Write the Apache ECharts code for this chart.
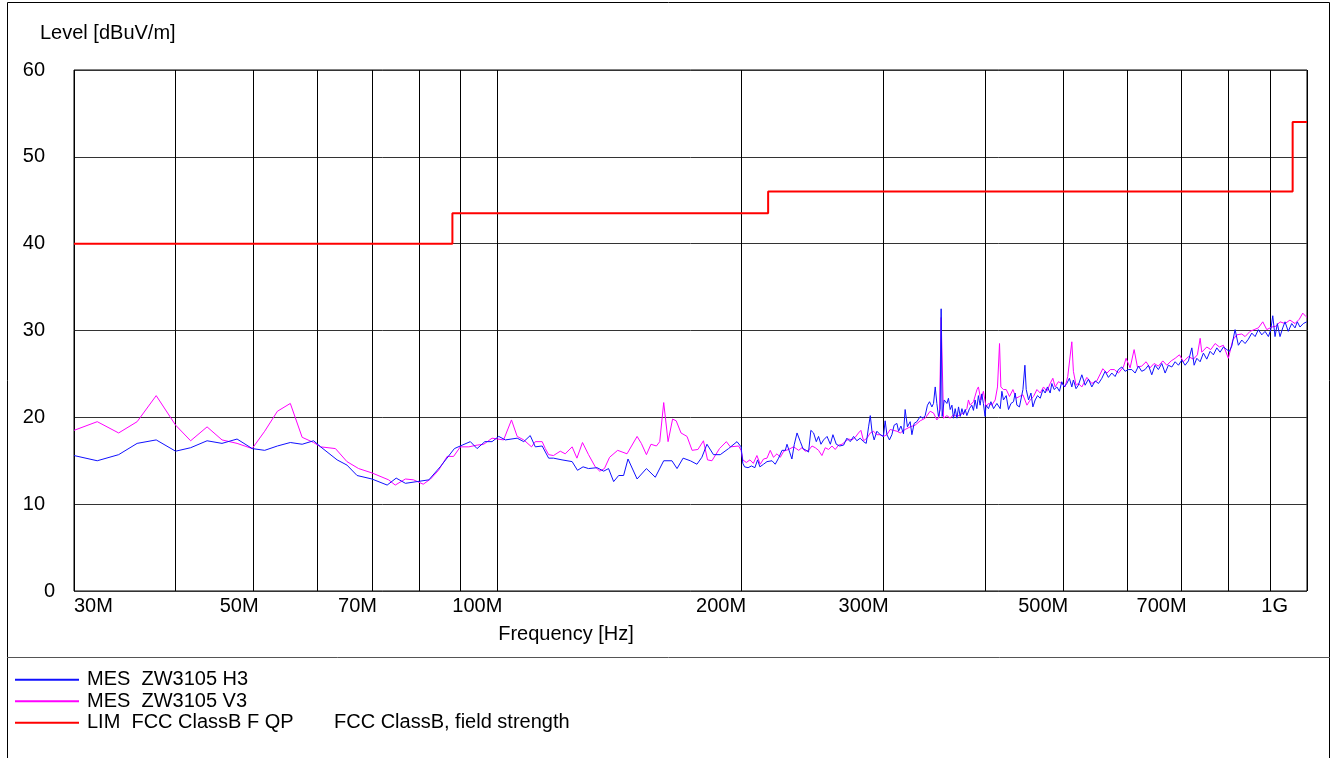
<!DOCTYPE html>
<html><head><meta charset="utf-8">
<script src="https://cdn.jsdelivr.net/npm/echarts@6/dist/echarts.min.js"></script>
<style>html,body{margin:0;padding:0;background:#fff}#c{width:1338px;height:758px}</style>
</head><body><div id="c"></div>
<script>
// ---- data (frequency in MHz, level in dBuV/m) ----
const freqH = [30,32.05,34.06,35.9,37.9,40.05,41.8,43.8,45.7,47.7,49.8,51.6,53.5,55.5,57.4,59.3,60.5,63.4,65.2,67.1,70,73.1,75,77,79.6,82.3,85,88.5,90.5,92.6,94.4,96.5,98.5,100.4,102.3,105.8,107.8,109.8,111.4,113.6,115.7,117.3,120.2,123.7,125.6,127.6,129.6,132.8,135.3,137.2,139.2,141.2,143.2,145,148.8,152.8,156.7,160.5,164.3,166.7,169.6,173.1,176.4,178.9,181.5,184.9,188.5,193,197.7,200,
201,202,204,206,208,209.6,211,213.2,215.3,218.4,220.4,222.5,224.7,226.8,227.9,229.6,231.1,232.7,234.5,236.7,238.5,240.7,242.3,243.9,245.8,247.7,249.3,251,252.9,255.4,257.8,259.7,262.2,264.7,267.7,270.2,272.8,275.4,278,280.6,283.3,285.5,287.4,288.8,290.2,292,294.3,297.1,299.8,301.3,302.8,305,307.1,309.1,311.5,313,315.1,317.4,318.9,321,323.5,325.1,327.2,329.7,332.9,335.4,337.6,339.8,341.8,344.1,345.7,347.4,349,350.6,352.3,353.3,354.3,356.4,359.1,360.7,362.5,364.3,365.9,367.7,369.5,371.2,373,374.8,376.5,378.3,380.1,382.9,385.5,387.3,389.1,391,392.8,394.7,396.6,398.4,400.3,401.4,404.2,407,410.1,414,417.9,419.9,421.8,425.1,427.9,430.9,434,436.1,438.2,441.4,443.2,445.8,448.3,450,453,456.1,458.6,461.6,464.7,468.3,471.9,474.9,478,481.7,484,487.2,491,494.6,497.9,501.2,505.1,508.8,512.3,514.6,518.5,521.9,527.1,532.1,537.1,542.3,547.5,552.7,558,563.2,568.5,574,579.4,584.9,590.6,596.1,601.7,607.6,613.4,619.1,625,631,637,643.1,649.1,655.3,661.7,668,674.2,680.9,687.3,693.8,700.4,707.1,713.8,720.7,725.4,731,737.9,744.8,752,759.1,766.3,773.7,781,788.4,796,801.8,807.4,815,822.7,830.7,838.6,846.4,854.7,862.8,870.8,879.3,887.6,896,902.1,907.2,913.1,919.1,926.1,933.3,939.4,948.1,957.4,966.5,972.8,980.3,989.6,999.2];
const levelH = [15.6,15.0,15.7,17.0,17.4,16.1,16.5,17.3,17.0,17.5,16.4,16.2,16.7,17.1,16.9,17.3,16.6,15.1,14.5,13.3,12.9,12.2,13.0,12.4,12.6,12.8,14.3,16.4,16.8,17.2,16.4,17.2,17.2,17.8,17.4,17.6,17.2,17.9,16.6,16.7,15.3,15.3,15.1,14.9,13.9,14.3,14.1,14.2,13.8,14.1,12.6,13.3,13.3,15.2,12.9,14.1,13.1,15.0,15.0,14.1,15.3,15.0,14.6,15.4,16.9,15.7,15.7,16.4,17.2,16.6,
14.7,14.3,14.2,14.4,14.2,15.1,14.3,14.6,14.9,15.0,14.6,15.3,16.2,16.2,16.9,16.0,15.2,16.9,18.2,17.2,16.4,16.2,16.0,18.5,18.2,17.2,17.8,16.9,17.4,17.8,16.9,18.0,16.9,16.7,16.8,17.6,17.2,17.8,17.3,17.6,17.2,17.0,18.9,20.2,18.4,17.4,18.4,18.0,17.8,19.6,18.0,17.4,18.0,19.1,19.3,18.4,19.0,18.1,20.9,18.9,19.5,18.0,19.3,19.5,20.1,19.9,20.2,21.4,21.8,21.2,21.6,23.5,21.6,20.1,20.9,32.5,20.1,22.0,21.6,22.2,20.9,21.4,19.9,21.0,19.9,21.2,20.1,21.0,20.3,20.9,20.2,21.0,21.4,20.8,22.0,21.0,22.5,21.4,22.7,21.6,20.1,21.4,21.0,21.8,21.0,21.6,21.0,23.0,22.0,22.5,20.9,21.6,21.8,22.8,21.4,21.2,21.0,23.2,26.0,23.2,22.0,22.8,21.2,22.0,22.5,22.2,23.2,22.8,23.5,22.8,23.9,23.2,23.5,23.0,24.1,23.5,23.9,24.5,23.5,24.3,23.3,23.7,24.9,23.7,24.4,23.5,24.2,23.9,24.5,25.3,24.6,25.1,24.7,25.5,25.8,25.3,25.5,25.5,25.1,25.9,25.3,25.5,26.0,24.9,26.0,25.5,26.2,25.1,26.0,25.8,26.4,26.0,26.6,26.0,26.5,28.0,26.0,26.8,26.4,27.4,26.7,27.6,27.2,28.0,27.5,28.1,27.8,27.6,28.2,30.1,28.3,28.9,28.5,29.0,29.7,29.3,30.1,29.5,29.9,29.3,30.1,31.7,29.3,30.8,29.3,30.3,31.0,29.9,30.8,30.3,31.0,30.4,30.8,31.0];

const freqV = [30,32.05,34.06,35.9,37.9,40.05,41.8,43.8,45.7,47.7,49.8,51.6,53.5,55.5,57.4,59.3,60.5,63.1,65.2,67.4,70,73.4,74.8,77,78.8,81,82.7,84.6,86.7,88.3,90,92.2,94.4,96.2,98.5,101.8,104.1,105.8,107.8,110.2,111.4,113.6,114.6,115.7,117.3,119.6,121.3,123.7,125.4,127.4,129.6,132.1,133.8,135.6,137.6,140.8,144.6,148.8,150.6,152.8,154.8,157.2,158.7,160.5,162.5,164.6,166.3,168.6,171.5,174,176.9,179.7,181.8,184.1,188.1,191.8,194,198.6,200,
201,203,205.1,207.1,209.2,211.2,213.2,215.3,217.3,219.3,221.5,223.6,225.8,228.9,232.2,235.6,237.8,240,242.3,244.7,247,249.3,251.7,254.1,256.5,259,261.4,263.9,266.5,268.9,271.5,274.2,276.7,279.3,281.2,283.3,286.1,288.8,291.5,294.3,297.1,299.8,302.8,305.6,308.5,311.5,314.5,318.9,323.5,328.1,332.9,337.6,342.4,345.7,349,351.6,353.3,355.7,359.1,362.5,365.9,369.5,373,376.5,380.1,381.8,383.7,387.3,391.2,392.8,395.5,398.4,401.4,404.2,408.1,412,414.7,417.1,418.7,421.8,425.1,429.1,433.3,437.3,441.4,445.8,450.9,455.2,459.4,463.9,468.3,472.7,477.2,481.7,485.4,488.6,493.1,497.9,502.6,506.4,508.8,512.3,514.6,518.5,521.9,527.1,534.7,542.3,550.1,559.5,566.2,571.6,578.1,584.9,593.3,597.8,604.7,611.6,617.4,625,632.8,640,647.3,655.3,663.6,671.2,679.6,687.3,695.7,703.7,713.8,724,732.2,738,741.3,752,760.7,770,779.6,788.4,799.6,809.7,819,830.7,838.6,850.5,860.3,870.8,881.8,891.9,904.6,915.7,926.1,939.4,952.7,966.5,978.4,988,997.2,1000];
const levelV = [18.5,19.5,18.2,19.5,22.5,19.1,17.3,18.9,17.4,17.0,16.4,18.4,20.7,21.6,17.7,17.1,16.6,16.4,14.9,14.1,13.6,12.8,12.2,12.9,12.8,12.3,12.9,13.9,15.5,15.5,16.6,16.6,16.8,16.9,17.6,17.4,19.7,17.8,17.4,16.6,17.2,17.2,16.4,15.7,15.6,16.1,15.8,16.6,15.3,17.1,15.7,14.3,13.8,14.1,15.4,16.2,15.8,17.8,17.0,15.7,16.9,16.7,17.2,21.7,17.2,19.8,19.6,18.2,17.8,16.2,16.3,17.3,15.1,15.0,16.4,17.2,16.6,16.7,16.2,
15.1,14.8,15.1,14.7,15.6,14.6,15.2,15.3,16.2,15.4,15.8,15.4,16.1,16.3,16.6,16.2,16.5,16.1,16.2,16.7,16.5,16.2,15.6,16.5,16.3,16.7,16.3,16.8,16.9,17.2,17.5,17.4,17.7,18.2,18.5,17.3,17.6,18.2,18.4,18.0,18.0,17.8,18.0,18.6,18.5,18.4,18.2,18.6,18.9,19.1,19.6,19.9,20.7,20.5,19.7,20.1,31.5,19.9,20.2,19.9,20.3,20.1,20.3,20.5,21.0,22.0,21.4,21.8,23.2,23.5,22.0,23.0,21.2,21.6,21.4,22.0,23.5,28.5,23.5,23.2,23.2,22.4,23.2,22.2,22.4,22.6,21.4,22.0,22.4,23.2,22.8,23.5,23.0,23.9,24.5,23.5,24.1,23.9,23.5,24.7,24.5,28.7,25.3,23.7,23.9,23.5,24.6,23.9,24.2,25.6,25.1,25.5,25.5,25.1,25.8,26.8,25.7,27.8,25.8,25.9,26.4,25.7,26.2,25.9,26.5,26.0,26.5,26.8,27.2,26.4,27.0,26.7,27.2,29.1,27.5,28.1,27.8,28.5,28.1,28.3,26.8,28.9,29.5,29.6,29.3,29.9,30.1,30.3,31.0,30.1,30.4,30.5,31.0,30.8,31.2,30.8,31.3,32.0,31.6,31.5];

const limitFreq = [30, 88, 88, 216, 216, 960, 960, 1000];
const limitLevel = [40, 40, 43.5, 43.5, 46, 46, 54, 54];

const xGridTicks = [30,40,50,60,70,80,90,100,200,300,400,500,600,700,800,900,1000];
const xLabelTicks = [30,50,70,100,200,300,500,700,1000];
const xLabelText = ['30M','50M','70M','100M','200M','300M','500M','700M','1G'];
const yTicks = [0,10,20,30,40,50,60];
const seriesNames = ['MES  ZW3105 H3','MES  ZW3105 V3','LIM  FCC ClassB F QP'];
const limitDescription = 'FCC ClassB, field strength';
const yAxisTitle = 'Level [dBuV/m]';
const xAxisTitle = 'Frequency [Hz]';

// ---- layout helpers ----
const FONT = "'Liberation Sans', Arial, sans-serif";
const ctx = document.createElement('canvas').getContext('2d');
ctx.font = "20px 'Liberation Sans', Arial, sans-serif";
const tw = s => ctx.measureText(s).width;

const xRich = {};
xLabelText.forEach((t, i) => {
  const w = tw(t);
  let pad;
  if (i === 0) pad = [0, 0, 0, w];
  else if (i === xLabelText.length - 1) pad = [0, w + 38, 0, 0];
  else pad = [0, Math.max(0, w - 10), 0, 0];
  xRich['x' + i] = { padding: pad, fontSize: 20, fontFamily: FONT, color: '#000' };
});
const yRich = {};
yTicks.forEach(v => {
  const w = tw(String(v));
  const right = v === 0 ? 55 : 45;
  yRich['y' + v] = { padding: [0, 0, 0, Math.max(0, right - w - 20)], fontSize: 20, fontFamily: FONT, color: '#000' };
});

const zip = (a, b) => a.map((f, i) => [f, b[i]]);

const chart = echarts.init(document.getElementById('c'), null, { renderer: 'canvas' });
chart.setOption({
  animation: false,
  backgroundColor: '#fff',
  title: {
    text: yAxisTitle, left: 40, top: 23, padding: 0,
    textStyle: { fontSize: 20, fontWeight: 'normal', fontFamily: FONT, color: '#000' }
  },
  grid: { left: 74, right: 31, top: 70, bottom: 167, show: true, borderColor: '#000', borderWidth: 1, containLabel: false, outerBoundsMode: 'none' },
  xAxis: {
    type: 'log', logBase: 10, min: 30, max: 1000,
    name: xAxisTitle, nameLocation: 'middle', nameGap: 33,
    nameTextStyle: { fontSize: 20, fontFamily: FONT, color: '#000', padding: [0, 249, 0, 0] },
    axisLine: { show: false },
    axisTick: { show: false, customValues: xGridTicks },
    splitLine: { show: true, lineStyle: { color: '#000', width: 1 } },
    axisLabel: {
      customValues: xLabelTicks, margin: 5, align: 'center',
      fontSize: 20, fontFamily: FONT, color: '#000',
      hideOverlap: false, showMinLabel: true, showMaxLabel: true,
      rich: xRich,
      formatter: v => {
        const i = xLabelTicks.findIndex(t => Math.abs(t - v) < 1e-6 * t);
        return i < 0 ? '' : '{x' + i + '|' + xLabelText[i] + '}';
      }
    }
  },
  yAxis: {
    type: 'value', min: 0, max: 60, interval: 10,
    axisLine: { show: false }, axisTick: { show: false },
    splitLine: { show: true, lineStyle: { color: '#333', width: 1 } },
    axisLabel: {
      align: 'left', margin: 54, fontSize: 20, fontFamily: FONT, color: '#000',
      rich: yRich,
      formatter: v => '{y' + v + '|' + v + '}'
    }
  },
  legend: {
    orient: 'vertical', left: 14, top: 669, padding: 0,
    itemWidth: 64, itemHeight: 14, itemGap: 0,
    data: seriesNames, selectedMode: false,
    itemStyle: { opacity: 0 },
    textStyle: {
      fontSize: 20, lineHeight: 21.5, fontFamily: FONT, color: '#000', padding: [0, 0, 0, 3],
      rich: {
        a: { width: 247, fontSize: 20, lineHeight: 21.5, fontFamily: FONT, color: '#000' },
        b: { fontSize: 20, lineHeight: 21.5, fontFamily: FONT, color: '#000' }
      }
    },
    formatter: name => name === seriesNames[2] ? '{a|' + name + '}{b|' + limitDescription + '}' : name
  },
  graphic: [
    { type: 'rect', silent: true, shape: { x: 7.5, y: 2.5, width: 1322, height: 800 }, style: { fill: null, stroke: '#000', lineWidth: 1 } },
    { type: 'line', silent: true, shape: { x1: 7, y1: 657.5, x2: 1330, y2: 657.5 }, style: { stroke: '#555', lineWidth: 1 } }
  ],
  series: [
    { name: seriesNames[0], type: 'line', symbol: 'none', showSymbol: false, data: zip(freqH, levelH),
      lineStyle: { color: '#1010ff', width: 1 }, itemStyle: { color: '#1010ff' }, z: 4 },
    { name: seriesNames[1], type: 'line', symbol: 'none', showSymbol: false, data: zip(freqV, levelV),
      lineStyle: { color: '#ff00ff', width: 1 }, itemStyle: { color: '#ff00ff' }, z: 3 },
    { name: seriesNames[2], type: 'line', symbol: 'none', showSymbol: false, data: zip(limitFreq, limitLevel),
      lineStyle: { color: '#ff0000', width: 2 }, itemStyle: { color: '#ff0000' }, z: 5 }
  ]
});
</script></body></html>
